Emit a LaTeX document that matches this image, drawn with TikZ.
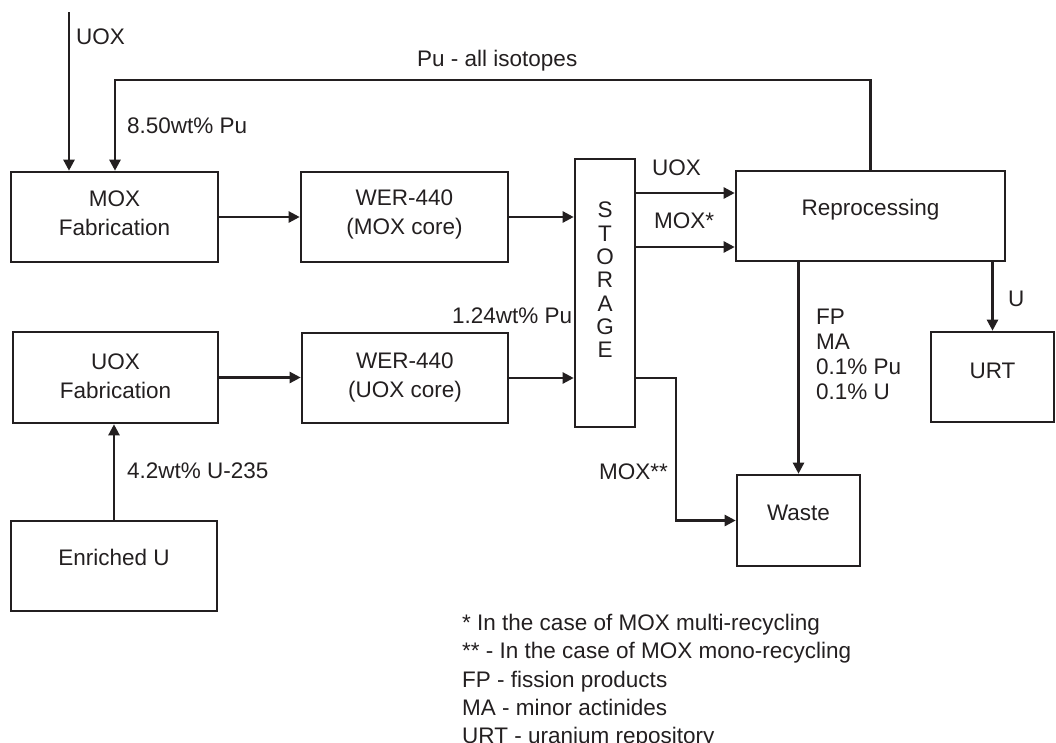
\documentclass[tikz,border=0pt]{standalone}
\usepackage{fontspec}
\setmainfont{Liberation Sans}
\usetikzlibrary{arrows.meta,calc}
\definecolor{ink}{HTML}{231F20}
\begin{document}
\begin{tikzpicture}[x=1pt,y=-1pt,
  every node/.style={text=ink,font=\fontsize{22.5}{29}\selectfont},
  box/.style={draw=ink,line width=2.6pt,inner sep=0pt},
  lbl/.style={anchor=base west,inner sep=0pt},
  boxtxt/.style={align=center,inner sep=0pt},
  arr/.style={draw=ink,line width=2.4pt,-{Triangle[length=11pt,width=11pt]}},
  ln/.style={draw=ink,line width=2.4pt}]
\path[use as bounding box] (0,0) rectangle (1056,742);

% boxes
\node[box,minimum width=207,minimum height=90] (moxfab) at (114.5,217) {};
\node[box,minimum width=207,minimum height=90] (wermox) at (404.5,217) {};
\node[box,minimum width=60,minimum height=268] (storage) at (605,293) {};
\node[box,minimum width=269,minimum height=90] (reproc) at (870.5,216) {};
\node[box,minimum width=205,minimum height=91] (uoxfab) at (115.5,377.5) {};
\node[box,minimum width=206,minimum height=90] (weruox) at (405,378) {};
\node[box,minimum width=206,minimum height=90] (enru) at (114,566) {};
\node[box,minimum width=123,minimum height=91] (waste) at (798.5,520.5) {};
\node[box,minimum width=123,minimum height=90] (urt) at (992.5,377) {};

% box texts
\node[boxtxt] (tmoxfab) at (114.5,213) {MOX\\Fabrication};
\node[boxtxt] (twermox) at (404.5,214) {WER-440\\(MOX core)};
\node[boxtxt] (tuoxfab) at (115.5,376.5) {UOX\\Fabrication};
\node[boxtxt] (tweruox) at (405,377.5) {WER-440\\(UOX core)};
\node[boxtxt,font=\fontsize{22.5}{23.3}\selectfont] (tstorage) at (605,280) {S\\T\\O\\R\\A\\G\\E};
\node[anchor=base,inner sep=0pt] (treproc) at (870.5,215) {Reprocessing};
\node[anchor=base,inner sep=0pt] (turt) at (992.5,378) {URT};
\node[anchor=base,inner sep=0pt] (twaste) at (798.5,520) {Waste};
\node[anchor=base,inner sep=0pt] (tenru) at (114,565) {Enriched U};

% helper coordinates
\coordinate (uoxin) at (69,12);
\coordinate (puTL) at (115,80);
\coordinate (y193) at (0,193);
\coordinate (y247) at (0,247);
\coordinate (bend) at (676,0);

% connectors
\draw[arr] (uoxin) -- (moxfab.north -| uoxin);
\draw[arr] (reproc.north) |- (puTL) -- (moxfab.north -| puTL);
\draw[arr] (moxfab.east) -- (wermox.west |- moxfab.east);
\draw[arr] (wermox.east) -- (storage.west |- wermox.east);
\draw[arr] (storage.east |- y193) -- (reproc.west |- y193);
\draw[arr] (storage.east |- y247) -- (reproc.west |- y247);
\draw[arr] (uoxfab.east) -- (weruox.west |- uoxfab.east);
\draw[arr] (weruox.east) -- (storage.west |- weruox.east);
\draw[arr] (enru.north) -- (uoxfab.south -| enru.north);
\draw[arr] (storage.east |- weruox.east) -| (bend |- waste.west) -- (waste.west);
\draw[arr] (reproc.south -| waste.north) -- (waste.north);
\draw[arr] (reproc.south -| urt.north) -- (urt.north);

% labels
\node[lbl] (luoxin) at (76,44) {UOX};
\node[lbl] (lpu) at (417,66) {Pu - all isotopes};
\node[lbl] (l850) at (127,133) {8.50wt\% Pu};
\node[lbl] (luox) at (652,175) {UOX};
\node[lbl] (lmox) at (654,228) {MOX*};
\node[lbl] (l124) at (452,323) {1.24wt\% Pu};
\node[lbl] (lu) at (1008,306) {U};
\node[lbl] (l42) at (127,478) {4.2wt\% U-235};
\node[lbl] (lmox2) at (599,479) {MOX**};
\node[anchor=north west,inner sep=0pt,align=left,font=\fontsize{22.5}{25}\selectfont] (lfp) at (816,309) {FP\\MA\\0.1\% Pu\\0.1\% U};
\node[anchor=north west,inner sep=0pt,align=left,font=\fontsize{22.5}{28.3}\selectfont] (notes) at (462,614) {* In the case of MOX multi-recycling\\** - In the case of MOX mono-recycling\\FP - fission products\\MA - minor actinides\\URT - uranium repository};
\end{tikzpicture}
\end{document}
